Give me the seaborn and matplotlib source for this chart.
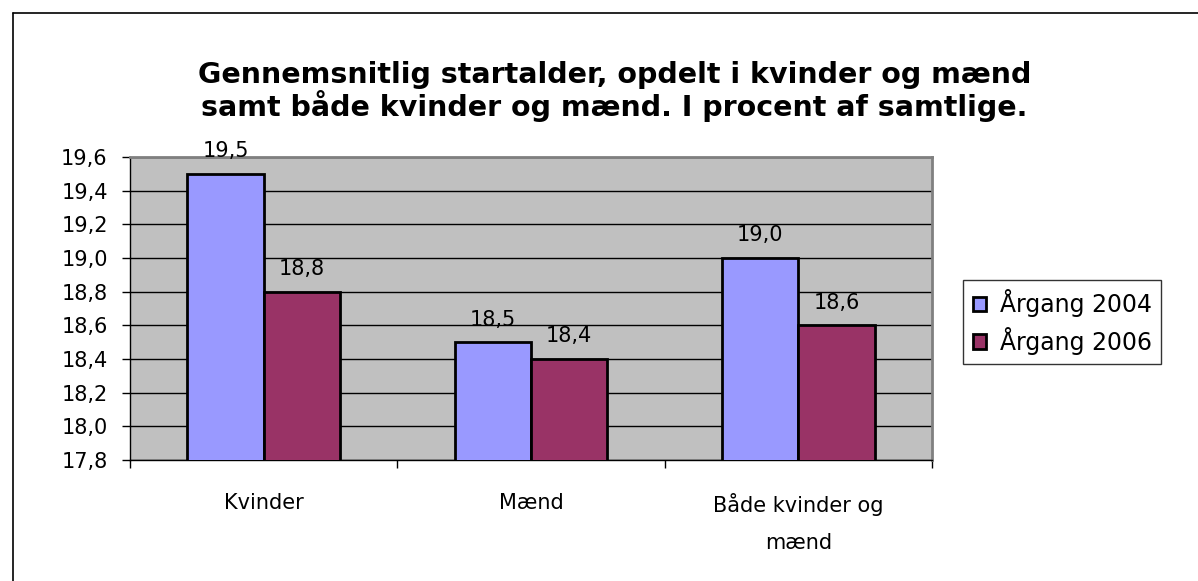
import seaborn as sns
import matplotlib.pyplot as plt
import pandas as pd
from matplotlib.lines import Line2D
from matplotlib.ticker import FixedLocator

categories = ['Kvinder', 'Mænd', 'Både kvinder og\nmænd']
series = ['Årgang 2004', 'Årgang 2006']
values_2004 = [19.5, 18.5, 19.0]
values_2006 = [18.8, 18.4, 18.6]
yticks = [17.8, 18.0, 18.2, 18.4, 18.6, 18.8, 19.0, 19.2, 19.4, 19.6]

df = pd.DataFrame({
    'kategori': categories * 2,
    'serie': [series[0]] * 3 + [series[1]] * 3,
    'værdi': values_2004 + values_2006,
})

sns.set_style('white')
plt.rcParams['font.family'] = ['DejaVu Sans']
plt.rcParams['text.color'] = 'black'
plt.rcParams['xtick.color'] = 'black'
plt.rcParams['ytick.color'] = 'black'

fig = plt.figure(figsize=(11.98, 5.81), dpi=100)
ax = fig.add_axes([0.1085, 0.2083, 0.6695, 0.5215])
ax.set_facecolor('#C0C0C0')

sns.barplot(data=df, x='kategori', y='værdi', hue='serie', ax=ax,
            palette=['#9999FF', '#993366'], edgecolor='black', linewidth=2,
            width=0.57, gap=0, saturation=1, zorder=3)

# data labels with decimal comma
for cont in ax.containers:
    ax.bar_label(cont, labels=[f'{v:.1f}'.replace('.', ',') for v in cont.datavalues],
                 padding=9, fontsize=15)

ax.set_ylim(17.8, 19.6)
ax.set_yticks(yticks)
ax.set_yticklabels([f'{t:.1f}'.replace('.', ',') for t in yticks], fontsize=15)
ax.yaxis.grid(True, color='black', linewidth=1, zorder=0)
ax.set_axisbelow(True)
ax.set_xlim(-0.5, 2.5)
ax.set_xticks(range(3))
ax.set_xticklabels(categories, fontsize=15, linespacing=2.05)
ax.xaxis.set_minor_locator(FixedLocator([-0.5, 0.5, 1.5, 2.5]))
ax.tick_params(axis='x', which='major', length=0, pad=24)
ax.tick_params(axis='x', which='minor', length=6, width=1, color='black', bottom=True)
ax.tick_params(axis='y', length=6, width=1, color='black', left=True, pad=10)
ax.set_xlabel('')
ax.set_ylabel('')

for side in ['left', 'bottom']:
    ax.spines[side].set_color('black')
    ax.spines[side].set_linewidth(1)
for side in ['top', 'right']:
    ax.spines[side].set_color('#808080')
    ax.spines[side].set_linewidth(2)

leg = ax.legend(loc='center left', bbox_to_anchor=(1.039, 0.455), fontsize=17,
                frameon=True, fancybox=False, edgecolor='black',
                handlelength=0.55, handleheight=0.55, handletextpad=0.6,
                borderpad=0.4, labelspacing=0.4, borderaxespad=0)
leg.get_frame().set_linewidth(1)

fig.suptitle('Gennemsnitlig startalder, opdelt i kvinder og mænd\n'
             'samt både kvinder og mænd. I procent af samtlige.',
             x=0.513, y=0.895, fontsize=20.5, fontweight='bold', linespacing=1.03)

# outer chart border (top and left visible)
fig.add_artist(Line2D([0.0105, 0.0105], [0, 0.978], transform=fig.transFigure,
                      color='black', linewidth=1.2))
fig.add_artist(Line2D([0.0105, 1.0], [0.978, 0.978], transform=fig.transFigure,
                      color='black', linewidth=1.2))

plt.savefig('out.png', dpi=100)
